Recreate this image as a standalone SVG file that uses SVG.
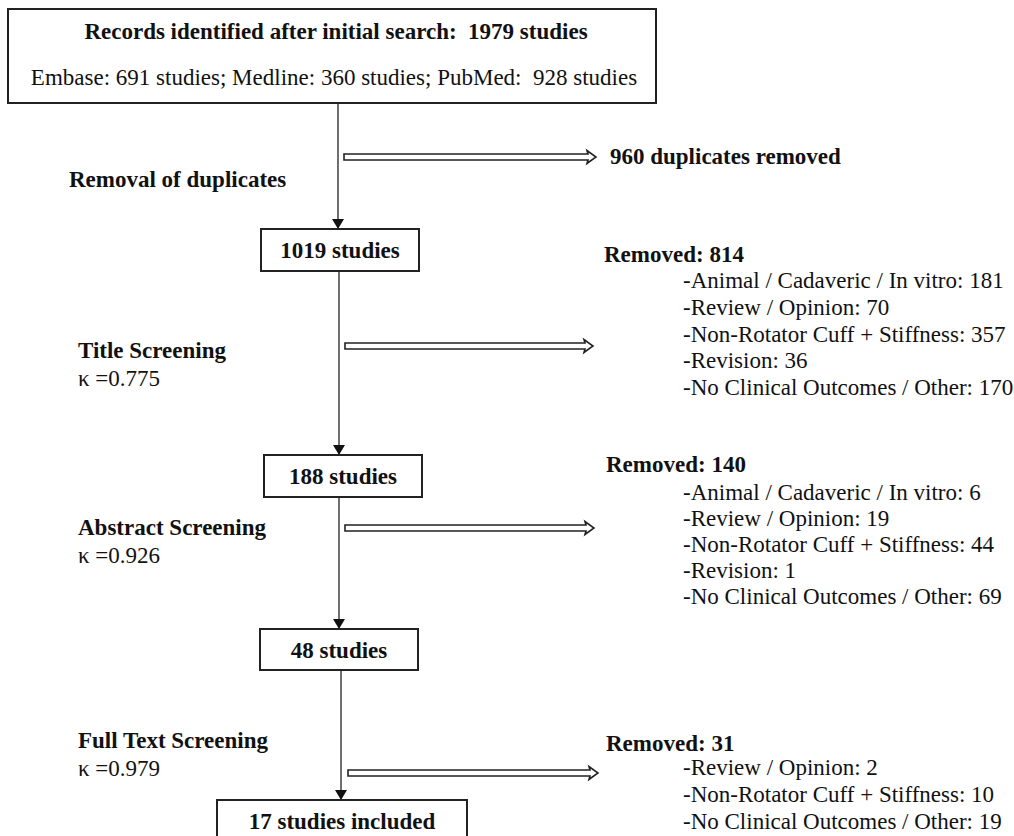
<svg xmlns="http://www.w3.org/2000/svg" width="1014" height="836" viewBox="0 0 1014 836">
<style>
text{font-family:"Liberation Serif","Times New Roman",serif;font-size:23px;fill:#111}
.b{font-weight:bold}
.box{fill:#fff;stroke:#222;stroke-width:2}
.ln{stroke:#333;stroke-width:1.4;fill:none}
.dbl{fill:#fff;stroke:#222;stroke-width:1.6;stroke-linejoin:miter}
.c{text-anchor:middle}
</style>
<defs>
<marker id="ah" viewBox="0 0 10 12" refX="10" refY="6" markerWidth="10" markerHeight="12" markerUnits="userSpaceOnUse" orient="auto">
<path d="M0,0 L10,6 L0,12 Z" fill="#111"/>
</marker>
</defs>
<rect width="1014" height="836" fill="#fff"/>

<g id="connectors">
<line class="ln" x1="338" y1="103" x2="338" y2="229" marker-end="url(#ah)"/>
<line class="ln" x1="339" y1="271" x2="339" y2="455" marker-end="url(#ah)"/>
<line class="ln" x1="339" y1="497" x2="339" y2="629" marker-end="url(#ah)"/>
<line class="ln" x1="341" y1="670" x2="341" y2="800" marker-end="url(#ah)"/>
<path class="dbl" d="M344,154 H588 L587,150.5 L596,157 L587,163.5 L588,160 H344 Z"/>
<path class="dbl" d="M345,343 H585 L584,339.5 L593,346 L584,352.5 L585,349 H345 Z"/>
<path class="dbl" d="M345,525 H586 L585,521.5 L594,528 L585,534.5 L586,531 H345 Z"/>
<path class="dbl" d="M348,770 H590 L589,766.5 L598,773 L589,779.5 L590,776 H348 Z"/>
</g>

<g id="node-records">
<rect class="box" x="8" y="9" width="648" height="94"/>
<text class="b c" x="336" y="39" xml:space="preserve">Records identified after initial search:  1979 studies</text>
<text class="c" x="334" y="85" xml:space="preserve">Embase: 691 studies; Medline: 360 studies; PubMed:  928 studies</text>
</g>

<g id="node-1019">
<rect class="box" x="261" y="229" width="158" height="42"/>
<text class="b c" x="340" y="258">1019 studies</text>
</g>

<g id="node-188">
<rect class="box" x="264" y="455" width="158" height="42"/>
<text class="b c" x="343" y="484">188 studies</text>
</g>

<g id="node-48">
<rect class="box" x="260" y="629" width="158" height="41"/>
<text class="b c" x="339" y="658">48 studies</text>
</g>

<g id="node-17">
<rect class="box" x="217" y="800" width="250" height="50"/>
<text class="b c" x="342" y="829">17 studies included</text>
</g>

<g id="label-duplicates">
<text class="b" x="69" y="187">Removal of duplicates</text>
<text class="b" x="610" y="164">960 duplicates removed</text>
</g>

<g id="label-title">
<text class="b" x="78" y="358">Title Screening</text>
<text x="78" y="386">κ =0.775</text>
</g>

<g id="label-abstract">
<text class="b" x="78" y="535">Abstract Screening</text>
<text x="78" y="563">κ =0.926</text>
</g>

<g id="label-fulltext">
<text class="b" x="78" y="748">Full Text Screening</text>
<text x="78" y="776">κ =0.979</text>
</g>

<g id="removed-814">
<text class="b" x="604" y="262">Removed: 814</text>
<text x="683" y="288">-Animal / Cadaveric / In vitro: 181</text>
<text x="683" y="315">-Review / Opinion: 70</text>
<text x="683" y="342">-Non-Rotator Cuff + Stiffness: 357</text>
<text x="683" y="368">-Revision: 36</text>
<text x="683" y="395">-No Clinical Outcomes / Other: 170</text>
</g>

<g id="removed-140">
<text class="b" x="606" y="472">Removed: 140</text>
<text x="683" y="500">-Animal / Cadaveric / In vitro: 6</text>
<text x="683" y="526">-Review / Opinion: 19</text>
<text x="683" y="552">-Non-Rotator Cuff + Stiffness: 44</text>
<text x="683" y="578">-Revision: 1</text>
<text x="683" y="604">-No Clinical Outcomes / Other: 69</text>
</g>

<g id="removed-31">
<text class="b" x="606" y="751">Removed: 31</text>
<text x="683" y="775">-Review / Opinion: 2</text>
<text x="683" y="802">-Non-Rotator Cuff + Stiffness: 10</text>
<text x="683" y="829">-No Clinical Outcomes / Other: 19</text>
</g>
</svg>
